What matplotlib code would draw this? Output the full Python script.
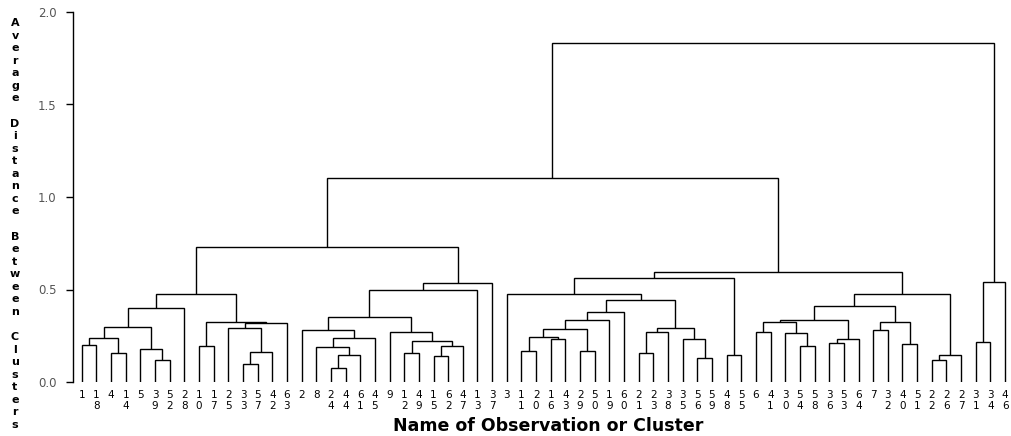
import matplotlib
matplotlib.use("Agg")
import matplotlib.pyplot as plt

# leaf order along the x axis (observation names)
leaf_order = [1, 18, 4, 14, 5, 39, 52, 28, 10, 17, 25, 33, 57, 42, 63,
              2, 8, 24, 44, 61, 45, 9, 12, 49, 15, 62, 47, 13, 37,
              3, 11, 20, 16, 43, 29, 50, 19, 60, 21, 23, 38, 35, 56, 59, 48, 55,
              6, 41, 30, 54, 58, 36, 53, 64, 7, 32, 40, 51, 22, 26, 27,
              31, 34, 46]

# merges: (name, left, right, average distance)
left_merges = [
    ('a1', 1, 18, 0.20), ('a2', 4, 14, 0.157), ('a3', 'a1', 'a2', 0.24),
    ('a4', 39, 52, 0.12), ('a5', 5, 'a4', 0.178), ('a6', 'a3', 'a5', 0.30),
    ('a7', 'a6', 28, 0.40), ('a8', 10, 17, 0.195), ('a9', 33, 57, 0.10),
    ('a10', 'a9', 42, 0.16), ('a11', 25, 'a10', 0.29), ('a12', 'a11', 63, 0.32),
    ('a13', 'a8', 'a12', 0.325), ('a14', 'a7', 'a13', 0.475),
    ('b1', 24, 44, 0.075), ('b2', 'b1', 61, 0.145), ('b3', 8, 'b2', 0.19),
    ('b4', 'b3', 45, 0.24), ('b5', 2, 'b4', 0.28), ('b6', 12, 49, 0.157),
    ('b7', 15, 62, 0.14), ('b8', 'b7', 47, 0.195), ('b9', 'b6', 'b8', 0.22),
    ('b10', 9, 'b9', 0.27), ('b11', 'b5', 'b10', 0.35), ('b12', 'b11', 13, 0.497),
    ('b13', 'b12', 37, 0.535), ('L', 'a14', 'b13', 0.73),
]
right_merges = [
    ('c1', 11, 20, 0.17), ('c2', 16, 43, 0.23), ('c3', 'c1', 'c2', 0.245),
    ('c4', 29, 50, 0.167), ('c5', 'c3', 'c4', 0.285), ('c6', 'c5', 19, 0.335),
    ('c7', 'c6', 60, 0.38), ('c8', 21, 23, 0.157), ('c9', 'c8', 38, 0.27),
    ('c10', 56, 59, 0.13), ('c11', 35, 'c10', 0.23), ('c12', 'c9', 'c11', 0.29),
    ('c13', 'c7', 'c12', 0.443), ('c14', 3, 'c13', 0.475), ('c15', 48, 55, 0.145),
    ('c16', 'c14', 'c15', 0.56),
    ('d1', 6, 41, 0.27), ('d2', 54, 58, 0.195), ('d3', 30, 'd2', 0.265),
    ('d4', 'd1', 'd3', 0.325), ('d5', 36, 53, 0.21), ('d6', 'd5', 64, 0.235),
    ('d7', 'd4', 'd6', 0.335), ('d8', 7, 32, 0.28), ('d9', 40, 51, 0.205),
    ('d10', 'd8', 'd9', 0.325), ('d11', 'd7', 'd10', 0.41), ('d12', 22, 26, 0.12),
    ('d13', 'd12', 27, 0.145), ('d14', 'd11', 'd13', 0.475),
    ('R', 'c16', 'd14', 0.595),
]
top_merges = [
    ('T', 'L', 'R', 1.105),
    ('e1', 31, 34, 0.215), ('e2', 'e1', 46, 0.54),
    ('root', 'T', 'e2', 1.83),
]

y_ticks = [0.0, 0.5, 1.0, 1.5, 2.0]

fig = plt.figure(figsize=(10.11, 4.36), dpi=100)
ax = fig.add_axes([73 / 1011, 1 - 382 / 436, 935 / 1011, 370 / 436])

# node positions: leaves by order, clusters at the middle of their children
pos = {leaf: (i, 0.0) for i, leaf in enumerate(leaf_order)}
for name, a, b, h in left_merges + right_merges + top_merges:
    xa, ya = pos[a]
    xb, yb = pos[b]
    ax.plot([xa, xa, xb, xb], [ya, h, h, yb], color='black', lw=1.0,
            solid_joinstyle='miter', solid_capstyle='butt')
    pos[name] = ((xa + xb) / 2, h)

ax.set_xlim(-0.6, 63.2)
ax.set_ylim(0, 2.0)
ax.set_yticks(y_ticks)
ax.set_yticklabels([f'{t:.1f}' for t in y_ticks], color='#555555', fontsize=8.5)
ax.set_xticks(range(len(leaf_order)))
ax.set_xticklabels(['\n'.join(str(n)) for n in leaf_order], fontsize=7.5,
                   linespacing=1.1)
ax.tick_params(axis='x', length=0, pad=6)
ax.tick_params(axis='y', length=5, width=1.0, direction='out', pad=7)
for s in ['top', 'right', 'bottom']:
    ax.spines[s].set_visible(False)
ax.spines['left'].set_linewidth(1.0)

ax.set_xlabel('Name of Observation or Cluster', fontsize=12.5, fontweight='bold',
              labelpad=4)
ax.xaxis.set_label_coords(0.508, -0.095)
fig.text(15 / 1011, 1 - 224 / 436, '\n'.join('Average Distance Between Clusters'),
         ha='center', va='center', fontsize=8, fontweight='bold', linespacing=1.32)

fig.savefig('out.png', dpi=100)
